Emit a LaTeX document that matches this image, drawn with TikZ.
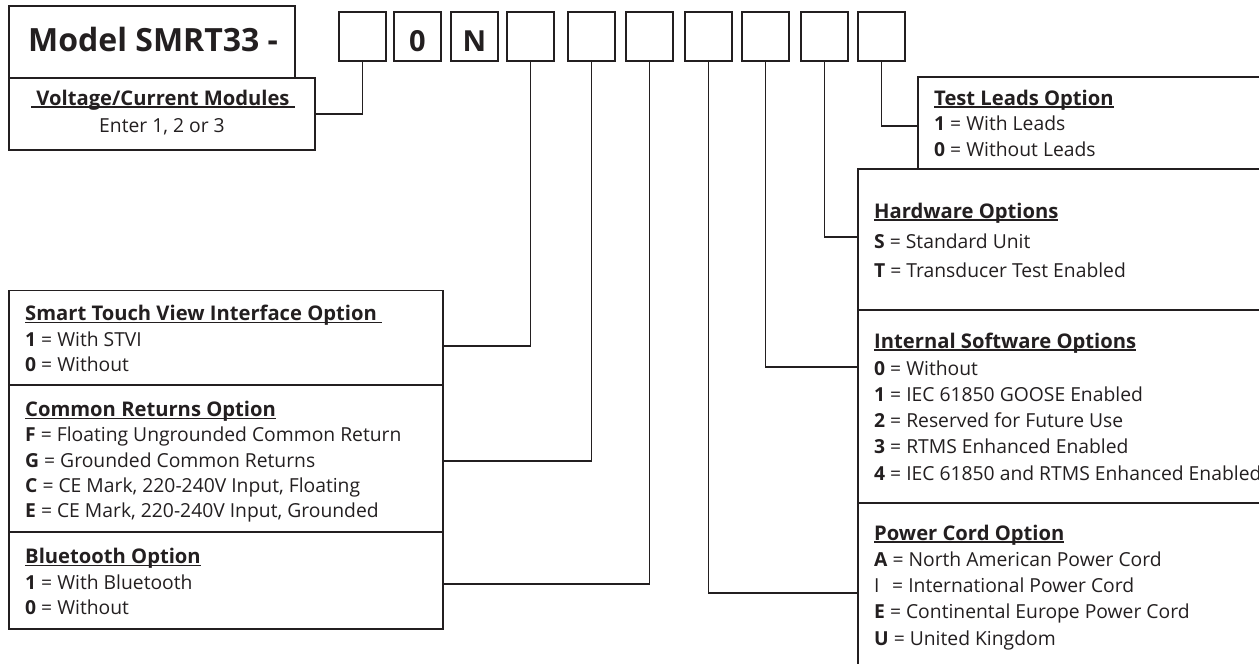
\documentclass[tikz,border=0pt]{standalone}
\usepackage{fontspec}
\setmainfont{Open Sans}
\usetikzlibrary{calc}
\definecolor{ink}{HTML}{231F20}
\newcommand\ulx[1]{\setbox0=\hbox{#1}\rlap{\rule[-2.6pt]{\wd0}{1.3pt}}\box0}
\newcommand\ttl[1]{{\fontsize{20.2}{24}\selectfont\bfseries\ulx{#1}}}
\begin{document}
\begin{tikzpicture}[x=1pt,y=-1pt,
  box/.style={draw=ink, line width=1.3pt, rectangle, inner sep=0pt, outer sep=0pt, anchor=north west},
  wire/.style={draw=ink, line width=1.3pt},
  txt/.style={anchor=base west, inner sep=0pt, text=ink, font=\fontsize{19.3}{24}\selectfont},
  ctxt/.style={txt, anchor=base},
  big/.style={anchor=base, inner sep=0pt, text=ink, font=\fontsize{29}{32}\selectfont\bfseries}]
\useasboundingbox[fill=white] (0,0) rectangle (1259,664);
% header boxes
\node[box, minimum width=286pt, minimum height=72pt] (model) at (9,6) {};
\node[box, minimum width=306pt, minimum height=72pt] (volt) at (9,78) {};
\node[anchor=base west, inner sep=0pt, text=ink, font=\fontsize{32}{36}\selectfont\bfseries] (modeltxt) at (28,51) {Model SMRT33 -};
\foreach \n/\x in {1/339,2/394,3/451,4/507,5/568,6/626,7/685,8/742,9/801,10/858}
  \node[box, minimum width=47pt, minimum height=49pt] (b\n) at (\x,12) {};
\node[big] (l2) at ($(b2.north)+(0,39.5)$) {0};
\node[big] (l3) at ($(b3.north)+(0,39.5)$) {N};
% option boxes left
\node[box, minimum width=434pt, minimum height=94.3pt] (stvi) at (9,290.7) {};
\node[box, minimum width=434pt, minimum height=147pt] (cr) at (9,385) {};
\node[box, minimum width=434pt, minimum height=97pt] (bt) at (9,532) {};
% option boxes right
\node[box, minimum width=360pt, minimum height=92pt] (test) at (918,77) {};
\node[box, minimum width=420pt, minimum height=141pt] (hw) at (858,169) {};
\node[box, minimum width=420pt, minimum height=193pt] (isw) at (858,310) {};
\node[box, minimum width=420pt, minimum height=180pt] (pc) at (858,503) {};
% connectors
\draw[wire] (b1.south) |- (volt.east);
\draw[wire] (b4.south) |- ($(stvi.north east)+(0,55.3)$);
\draw[wire] (b5.south) |- ($(cr.north east)+(0,76)$);
\draw[wire] (b6.south) |- ($(bt.north east)+(0,52)$);
\draw[wire] (b7.south) |- ($(pc.north west)+(0,90)$);
\draw[wire] (b8.south) |- ($(isw.north west)+(0,57)$);
\draw[wire] (b9.south) |- ($(hw.north west)+(0,68)$);
\draw[wire] (b10.south) |- ($(test.north west)+(0,49)$);
% texts
\node[ctxt] (v1) at (163,105) {\ttl{\ Voltage/Current Modules\ }};
\node[ctxt] (v2) at (162,132.7) {Enter 1, 2 or 3};
\node[txt] (s1) at (25,320.7) {\ttl{Smart Touch View Interface Option\ }};
\node[txt] (s2) at (25,346.2) {\textbf{1} = With STVI};
\node[txt] (s3) at (25,371.7) {\textbf{0} = Without};
\node[txt] (c1) at (25,416.7) {\ttl{Common Returns Option}};
\node[txt] (c2) at (25,441.9) {\textbf{F} = Floating Ungrounded Common Return};
\node[txt] (c3) at (25,467.1) {\textbf{G} = Grounded Common Returns};
\node[txt] (c4) at (25,492.3) {\textbf{C} = CE Mark, 220-240V Input, Floating};
\node[txt] (c5) at (25,517.5) {\textbf{E} = CE Mark, 220-240V Input, Grounded};
\node[txt] (t1) at (25,563.5) {\ttl{Bluetooth Option}};
\node[txt] (t2) at (25,589) {\textbf{1} = With Bluetooth};
\node[txt] (t3) at (25,614.5) {\textbf{0} = Without};
\node[txt] (k1) at (934,105) {\ttl{Test Leads Option}};
\node[txt] (k2) at (934,130.7) {\textbf{1} = With Leads};
\node[txt] (k3) at (934,156.3) {\textbf{0} = Without Leads};
\node[txt] (h1) at (874,218) {\ttl{Hardware Options}};
\node[txt] (h2) at (874,248) {\textbf{S} = Standard Unit};
\node[txt] (h3) at (874,277) {\textbf{T} = Transducer Test Enabled};
\node[txt] (i1) at (874,348) {\ttl{Internal Software Options}};
\node[txt] (i2) at (874,375) {\textbf{0} = Without};
\node[txt] (i3) at (874,401) {\textbf{1} = IEC 61850 GOOSE Enabled};
\node[txt] (i4) at (874,427.3) {\textbf{2} = Reserved for Future Use};
\node[txt] (i5) at (874,453.6) {\textbf{3} = RTMS Enhanced Enabled};
\node[txt] (i6) at (874,480) {\textbf{4} = IEC 61850 and RTMS Enhanced Enabled};
\node[txt] (p1) at (874,540) {\ttl{Power Cord Option}};
\node[txt] (p2) at (874,566.3) {\textbf{A} = North American Power Cord};
\node[txt] (p3) at (874,592.6) {\makebox[13pt][l]{I} = International Power Cord};
\node[txt] (p4) at (874,618.9) {\textbf{E} = Continental Europe Power Cord};
\node[txt] (p5) at (874,645.2) {\textbf{U} = United Kingdom};
\end{tikzpicture}
\end{document}
